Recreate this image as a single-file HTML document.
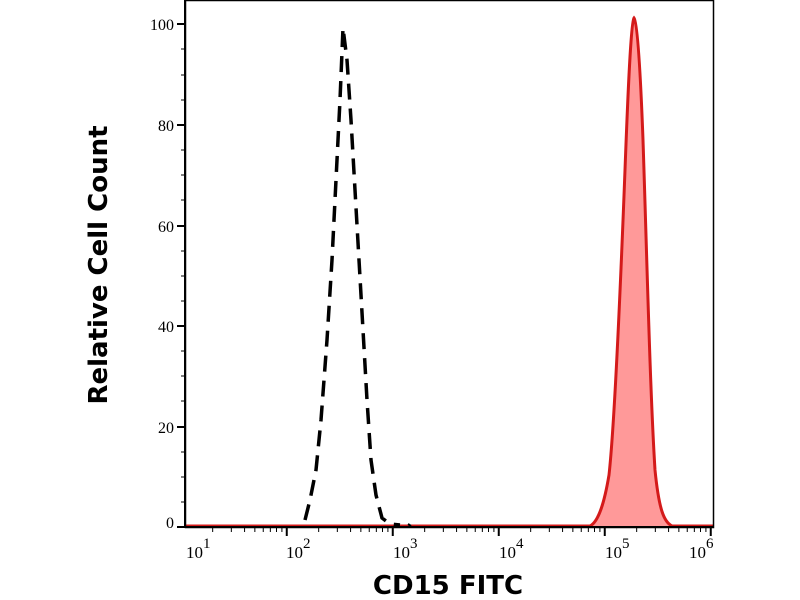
<!DOCTYPE html>
<html><head><style>body{margin:0;background:#fff}svg{display:block}</style></head><body>
<svg width="800" height="600" xmlns="http://www.w3.org/2000/svg">
<rect width="800" height="600" fill="#fff"/>
<path d="M186,526 L590,526 C598,522 604,505 609,475 C614,430 620,300 625,170 C628,90 631,22 634,18 C637,22 640,60 643,140 C647,260 650,390 655,470 C659,510 664,522 672,526 L713,526" fill="#f99" stroke="#d41a1a" stroke-width="3"/>
<path d="M305,520 L310,500 L316,470 L321,420 L327,340 L332,260 L336,180 L340,100 L343,28 L347,60 L351,120 L355,190 L359,260 L363,330 L367,400 L371,460 L376,495 L382,518 L390,524 L400,525" fill="none" stroke="#000" stroke-width="3.5" stroke-dasharray="16,9"/>
<path d="M408,524 l3,2" stroke="#000" stroke-width="2"/>
<rect x="185.5" y="0.5" width="528" height="527" fill="none" stroke="#000" stroke-width="1.5"/>
<g stroke="#000" stroke-width="2">
<line x1="185" y1="527" x2="714" y2="527"/>
<line x1="185" y1="0" x2="185" y2="528"/>
<line x1="177" y1="24" x2="185" y2="24"/><line x1="177" y1="125" x2="185" y2="125"/><line x1="177" y1="226" x2="185" y2="226"/><line x1="177" y1="326" x2="185" y2="326"/><line x1="177" y1="427" x2="185" y2="427"/><line x1="177" y1="527" x2="185" y2="527"/>
</g>
<g stroke="#000" stroke-width="1">
<line x1="181" y1="49" x2="185" y2="49"/><line x1="181" y1="75" x2="185" y2="75"/><line x1="181" y1="100" x2="185" y2="100"/>
<line x1="181" y1="150" x2="185" y2="150"/><line x1="181" y1="175" x2="185" y2="175"/><line x1="181" y1="200" x2="185" y2="200"/>
<line x1="181" y1="251" x2="185" y2="251"/><line x1="181" y1="276" x2="185" y2="276"/><line x1="181" y1="301" x2="185" y2="301"/>
<line x1="181" y1="351" x2="185" y2="351"/><line x1="181" y1="376" x2="185" y2="376"/><line x1="181" y1="401" x2="185" y2="401"/>
<line x1="181" y1="452" x2="185" y2="452"/><line x1="181" y1="477" x2="185" y2="477"/><line x1="181" y1="502" x2="185" y2="502"/>
</g>
<g id="xt" stroke="#000"></g>
<g font-family="Liberation Serif, serif" font-size="16" text-anchor="end">
<text x="174" y="30">100</text><text x="174" y="131">80</text><text x="174" y="232">60</text><text x="174" y="332">40</text><text x="174" y="433">20</text><text x="174" y="528">0</text>
</g>
<g font-family="Liberation Serif, serif" font-size="17">
<text x="186" y="558">10<tspan font-size="15" dy="-10">1</tspan></text>
<text x="286" y="558">10<tspan font-size="15" dy="-10">2</tspan></text>
<text x="393" y="558">10<tspan font-size="15" dy="-10">3</tspan></text>
<text x="499" y="558">10<tspan font-size="15" dy="-10">4</tspan></text>
<text x="605" y="558">10<tspan font-size="15" dy="-10">5</tspan></text>
<text x="689" y="558">10<tspan font-size="15" dy="-10">6</tspan></text>
</g>
<text x="448" y="594" font-family="DejaVu Sans, sans-serif" font-weight="bold" font-size="26" text-anchor="middle">CD15 FITC</text>
<text transform="translate(107,265) rotate(-90)" font-family="DejaVu Sans, sans-serif" font-weight="bold" font-size="26" text-anchor="middle">Relative Cell Count</text>
</svg>
<script>
var g=document.getElementById('xt'),s='';
for(var d=0;d<6;d++){var b=185+(d-0.04)*106;for(var k=1;k<10;k++){var x=b+Math.log10(k)*106;if(x<185||x>714)continue;var L=k==1?9:5;s+='<line x1="'+x+'" y1="527" x2="'+x+'" y2="'+(527+L)+'" stroke-width="'+(k==1?2:1)+'"/>';}}
var x6=185+5.96*106;s+='<line x1="'+x6+'" y1="527" x2="'+x6+'" y2="536" stroke-width="2"/>';
g.innerHTML=s;
</script>
</body></html>
